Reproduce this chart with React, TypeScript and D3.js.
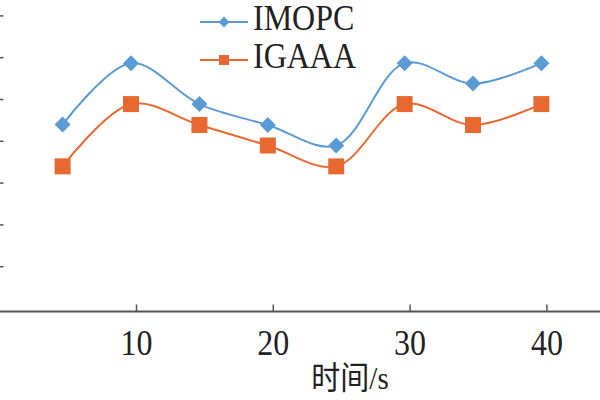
import React from "react";
import * as d3 from "d3";

const times = [4.6, 9.6, 14.6, 19.6, 24.6, 29.6, 34.6, 39.6];
const imopc = [4.4, 5.87, 4.89, 4.39, 3.9, 5.87, 5.38, 5.87];
const igaaa = [3.4, 4.89, 4.39, 3.9, 3.4, 4.89, 4.39, 4.89];
const xTicks = [10, 20, 30, 40];
const yTicks = [1, 2, 3, 4, 5, 6, 7];
const seriesNames = ["IMOPC", "IGAAA"];
const xTitle = "时间/s";

const W = 600;
const H = 400;
const BLUE = "#5B9BD5";
const ORANGE = "#E8692F";
const AXIS = "#555";
const FONT = "'Liberation Serif', 'Times New Roman', 'Noto Sans CJK SC', serif";

function Label(props: { x: number; y: number; size: number; anchor?: string; children: React.ReactNode }) {
  return (
    <text
      transform={`translate(${props.x},${props.y}) scale(1,1.1)`}
      textAnchor={props.anchor || "start"}
      fontFamily={FONT}
      fontSize={props.size}
      fill="#222"
    >
      {props.children}
    </text>
  );
}

export default function App() {
  const x = d3.scaleLinear().domain([0, 44]).range([-0.3, 601.6]);
  const y = d3.scaleLinear().domain([0, 7]).range([308.5, 15.9]);
  const axisY = 311.5;

  const line = d3
    .line<number>()
    .x((_, i) => x(times[i]))
    .y((d) => y(d))
    .curve(d3.curveCatmullRom.alpha(0.5));

  const diamond = (cx: number, cy: number, r: number) =>
    `M${cx},${cy - r}L${cx + r},${cy}L${cx},${cy + r}L${cx - r},${cy}Z`;

  return (
    <svg
      width={W}
      height={H}
      style={{ position: "absolute", left: 0, top: 0, background: "#fff" }}
    >
      <rect x={0} y={0} width={W} height={H} fill="#fff" />
      {yTicks.map((t) => (
        <line key={t} x1={0} x2={3.5} y1={y(t)} y2={y(t)} stroke={AXIS} strokeWidth={1.5} />
      ))}
      <line x1={0} x2={W} y1={axisY} y2={axisY} stroke={AXIS} strokeWidth={2} />
      {xTicks.map((t) => (
        <g key={t}>
          <line x1={x(t)} x2={x(t)} y1={axisY} y2={axisY - 7} stroke={AXIS} strokeWidth={1.5} />
          <Label x={x(t)} y={355} size={32} anchor="middle">
            {t}
          </Label>
        </g>
      ))}
      <Label x={350} y={389} size={29} anchor="middle">
        {xTitle}
      </Label>

      <path d={line(imopc) || ""} fill="none" stroke={BLUE} strokeWidth={2} />
      <path d={line(igaaa) || ""} fill="none" stroke={ORANGE} strokeWidth={2} />

      {imopc.map((v, i) => (
        <path key={"b" + i} d={diamond(x(times[i]), y(v), 8)} fill={BLUE} />
      ))}
      {igaaa.map((v, i) => (
        <rect
          key={"o" + i}
          x={x(times[i]) - 8}
          y={y(v) - 8}
          width={16}
          height={16}
          fill={ORANGE}
        />
      ))}

      <line x1={200} x2={248} y1={22} y2={22} stroke={BLUE} strokeWidth={2} />
      <path d={diamond(224, 22, 5.5)} fill={BLUE} />
      <Label x={253} y={30} size={32}>
        {seriesNames[0]}
      </Label>
      <line x1={200} x2={248} y1={60} y2={60} stroke={ORANGE} strokeWidth={2} />
      <rect x={219} y={55} width={10} height={10} fill={ORANGE} />
      <Label x={253} y={68} size={32}>
        {seriesNames[1]}
      </Label>
    </svg>
  );
}
